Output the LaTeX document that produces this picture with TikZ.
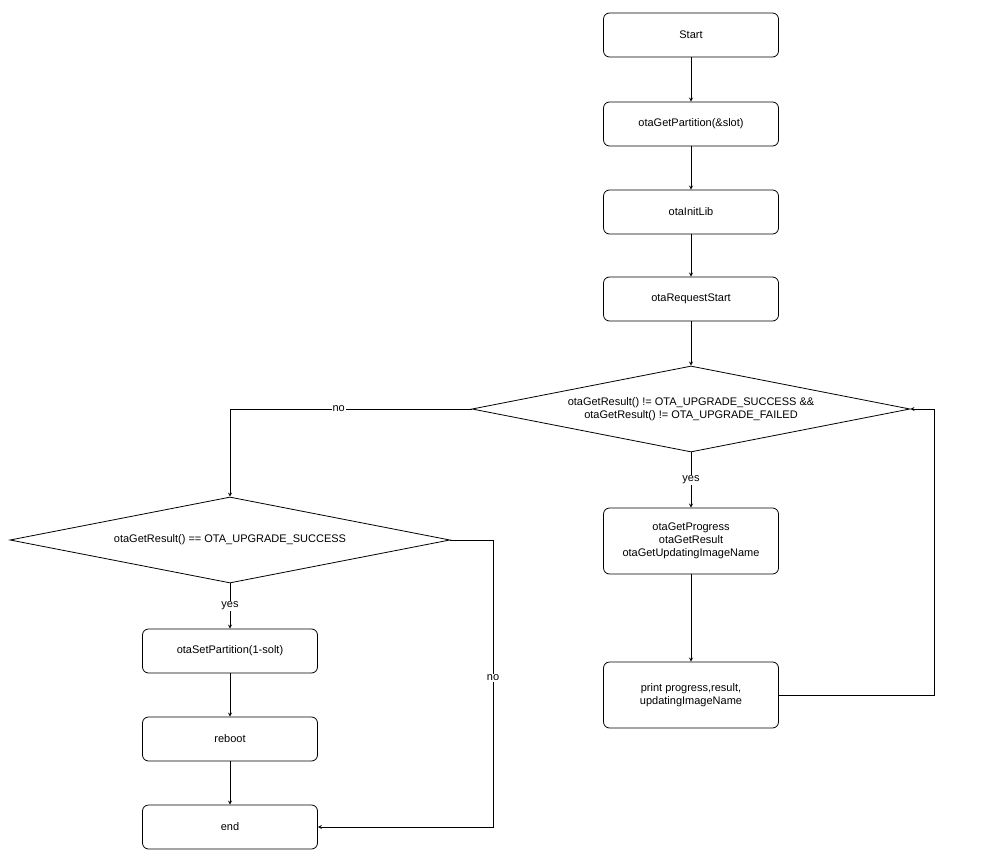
\documentclass[tikz,border=0pt]{standalone}
\usepackage{fontspec}
\setmainfont{Liberation Sans}
\usetikzlibrary{shapes.geometric,positioning}

\begin{document}
\begin{tikzpicture}[%
    x=1pt, y=-1pt,
    >=stealth,
    font=\fontsize{11}{13}\selectfont,
    stepbox/.style={draw, rounded corners=6pt, minimum width=175pt, minimum height=44pt, align=center, line width=0.8pt},
    tallbox/.style={stepbox, minimum height=66pt},
    decision/.style={draw, diamond, inner sep=0pt, minimum width=438pt, minimum height=86pt, line width=0.8pt},
    flow/.style={->, line width=0.8pt},
    lbl/.style={fill=white, inner sep=1pt}
    ]

    \useasboundingbox (0,0) rectangle (995,858);

    \node[stepbox] (start) at (691,35) {Start};
    \node[stepbox] (part) at (691,124) {otaGetPartition(\&slot)};
    \node[stepbox] (init) at (691,212) {otaInitLib};
    \node[stepbox] (req) at (691,299) {otaRequestStart};
    \node[decision] (d1) at (691,409) {};
    \node[align=center] (d1text) at (d1.center) {otaGetResult() != OTA\_UPGRADE\_SUCCESS \&\&\\otaGetResult() != OTA\_UPGRADE\_FAILED};
    \node[tallbox] (prog) at (691,541) {otaGetProgress\\otaGetResult\\otaGetUpdatingImageName};
    \node[tallbox] (print) at (691,695) {print progress,result,\\updatingImageName};

    \node[decision, minimum width=440pt] (d2) at (230,540) {};
    \node (d2text) at (d2.center) {otaGetResult() == OTA\_UPGRADE\_SUCCESS};
    \node[stepbox] (setp) at (230,651) {otaSetPartition(1-solt)};
    \node[stepbox] (reboot) at (230,739) {reboot};
    \node[stepbox] (end) at (230,827) {end};

    \coordinate (loopr) at (934,695);
    \coordinate (nor) at (493,540);

    \draw[flow] (start) -- (part);
    \draw[flow] (part) -- (init);
    \draw[flow] (init) -- (req);
    \draw[flow] (req) -- (d1);
    \draw[flow] (d1) -- node[lbl] {yes} (prog);
    \draw[flow] (prog) -- (print);
    \draw[flow] (print.east) -- (loopr) -- (loopr |- d1.east) -- (d1.east);
    \draw[flow] (d1.west) -- node[lbl, pos=0.55] {no} (d1.west -| d2.north) -- (d2.north);
    \draw[flow] (d2) -- node[lbl] {yes} (setp);
    \draw[flow] (setp) -- (reboot);
    \draw[flow] (reboot) -- (end);
    \draw[flow] (d2.east) -- (nor) -- node[lbl, pos=0.48] {no} (nor |- end.east) -- (end.east);

\end{tikzpicture}
\end{document}
